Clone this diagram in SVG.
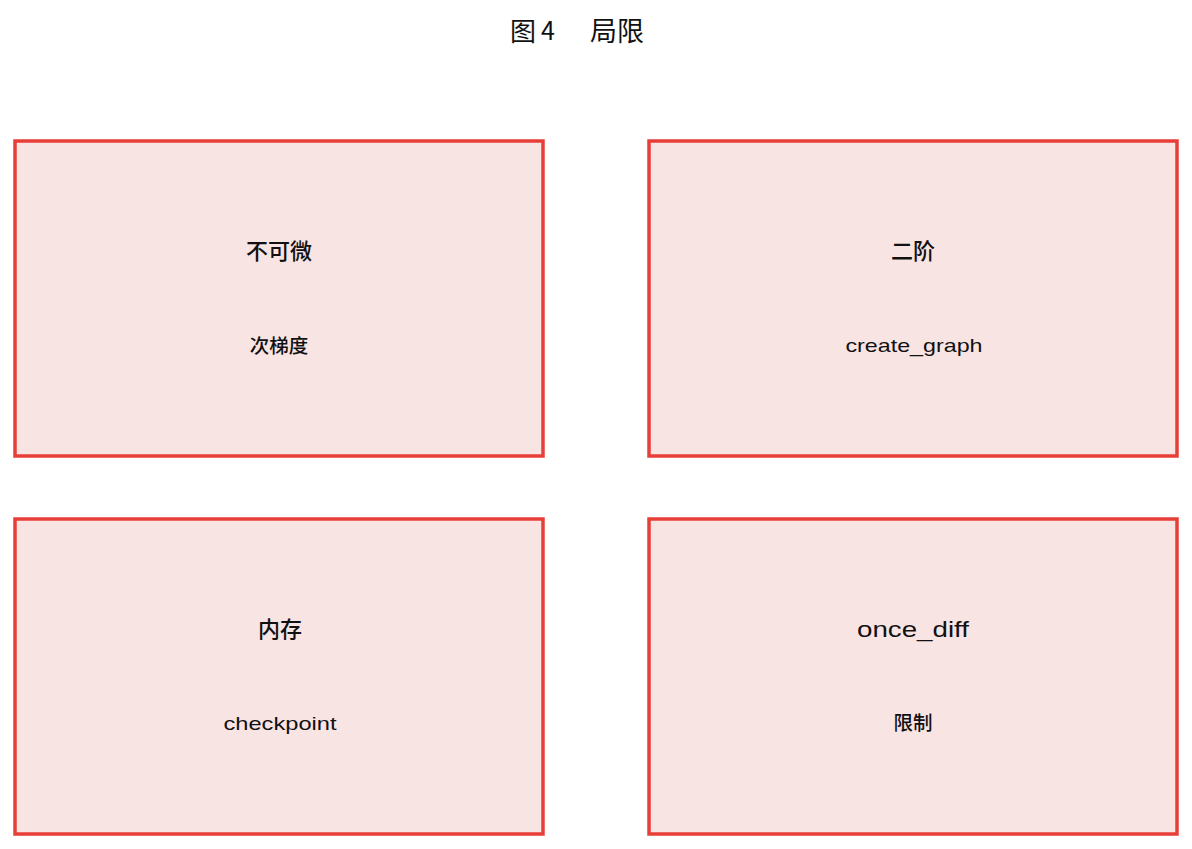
<svg xmlns="http://www.w3.org/2000/svg" width="1192" height="849" viewBox="0 0 1192 849">
<style>
.box{fill:#f9e4e4;stroke:#e83e38;stroke-width:3.5}
.t{font-family:"Liberation Sans","Noto Sans CJK SC",sans-serif;fill:#111;text-anchor:middle;dominant-baseline:central}
.h{font-size:22px;font-weight:500}
.hl{font-size:22px}
.s{font-size:19.5px;font-weight:500}
.sl{font-size:19px}
.title{font-family:"Noto Sans CJK SC",sans-serif;font-size:26px;fill:#111;dominant-baseline:central}
</style>
<rect width="1192" height="849" fill="#fff"/>
<text class="title" y="29"><tspan x="510">图</tspan><tspan x="541" font-size="25">4</tspan><tspan x="590" font-size="27">局限</tspan></text>
<g id="connectors"></g>
<g id="node1">
<rect class="box" x="15" y="141" width="528" height="315"/>
<text class="t h" x="279" y="251">不可微</text>
<text class="t s" x="279" y="346">次梯度</text>
</g>
<g id="node2">
<rect class="box" x="649" y="141" width="528" height="315"/>
<text class="t h" x="913" y="251">二阶</text>
<text class="t sl" x="914" y="345" textLength="137" lengthAdjust="spacingAndGlyphs">create_graph</text>
</g>
<g id="node3">
<rect class="box" x="15" y="519" width="528" height="315"/>
<text class="t h" x="280" y="629">内存</text>
<text class="t sl" x="280" y="723" textLength="113" lengthAdjust="spacingAndGlyphs">checkpoint</text>
</g>
<g id="node4">
<rect class="box" x="649" y="519" width="528" height="315"/>
<text class="t hl" x="913" y="629" textLength="112" lengthAdjust="spacingAndGlyphs">once_diff</text>
<text class="t s" x="913" y="723">限制</text>
</g>
</svg>
